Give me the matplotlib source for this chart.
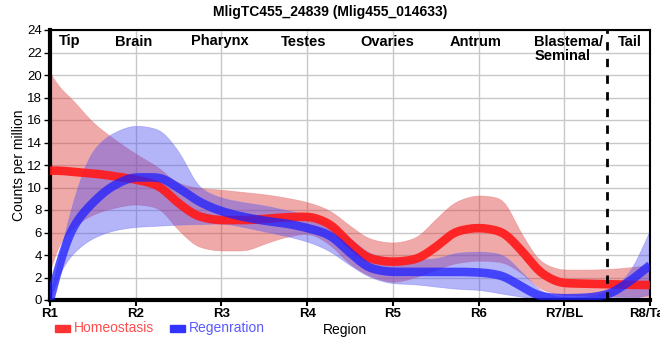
import numpy as np
import matplotlib
matplotlib.use("Agg")
import matplotlib.pyplot as plt

plt.rcParams["font.family"] = ["Liberation Sans", "DejaVu Sans"]

# positions along the body (0 = R1 ... 7 = R8/Tail)
pos = [0, 0.1, 0.25, 0.5, 0.75, 1, 1.25, 1.5, 1.75, 2, 2.25, 2.5, 2.75, 3, 3.25, 3.5,
       3.75, 4, 4.25, 4.5, 4.75, 5, 5.25, 5.5, 5.75, 6, 6.25, 6.5, 6.75, 7]

homeo_mean = [11.5, 11.5, 11.4, 11.25, 11.0, 10.7, 10.2, 8.6, 7.4, 7.1, 7.1, 7.2, 7.35, 7.4,
              6.8, 5.0, 3.65, 3.4, 3.6, 4.7, 6.1, 6.4, 6.1, 4.4, 2.3, 1.5, 1.45, 1.4, 1.35, 1.33]
homeo_upper = [20.2, 19.0, 17.9, 15.8, 14.3, 13.0, 11.85, 10.4, 9.95, 9.8, 9.6, 9.4, 9.1, 8.7,
               8.0, 6.6, 5.4, 5.1, 5.5, 7.2, 8.8, 9.3, 9.05, 5.9, 3.3, 2.7, 2.7, 2.75, 2.9, 3.1]
homeo_lower = [2.6, 4.9, 6.3, 7.6, 8.2, 8.5, 8.2, 6.2, 4.7, 4.4, 4.4, 5.0, 5.6, 5.9,
               5.0, 3.2, 2.1, 1.6, 2.0, 2.7, 3.3, 3.5, 3.4, 2.4, 0.9, 0.45, 0.4, 0.35, 0.3, 0.3]

regen_mean = [0, 2.9, 6.2, 8.65, 10.2, 10.9, 10.9, 9.95, 8.7, 7.9, 7.4, 7.05, 6.8, 6.4,
              5.8, 4.2, 2.8, 2.5, 2.5, 2.5, 2.5, 2.45, 2.2, 1.2, 0.3, 0.15, 0.2, 0.5, 1.6, 3.1]
regen_upper = [0.5, 3.6, 8.3, 13.3, 14.9, 15.5, 15.2, 13.2, 10.0, 9.1, 8.7, 8.4, 8.0, 7.55,
               6.8, 5.5, 4.1, 3.7, 3.6, 3.7, 4.2, 4.3, 4.1, 2.5, 0.75, 0.25, 0.3, 0.75, 2.4, 6.2]
regen_lower = [0, 2.2, 4.0, 5.5, 6.2, 6.5, 6.6, 6.7, 6.75, 6.8, 6.5, 6.1, 5.7, 5.2,
               4.4, 3.1, 2.0, 1.5, 1.4, 1.2, 1.0, 0.9, 0.6, 0.3, 0.05, 0, 0, 0, 0.1, 0.5]

x_ticks = ["R1", "R2", "R3", "R4", "R5", "R6", "R7/BL", "R8/Tail"]
regions = ["Tip", "Brain", "Pharynx", "Testes", "Ovaries", "Antrum", "Blastema/\nSeminal", "Tail"]
region_x = [0.23, 0.97, 1.98, 2.96, 3.94, 4.97, 5.65, 6.77]


def smooth(x, y, n=700, sigma=0.05):
    # monotone cubic (pchip) plus a light blur, only to draw smooth curves through the read points
    x = np.asarray(x, float); y = np.asarray(y, float)
    h = np.diff(x); d = np.diff(y) / h
    m = np.zeros_like(y)
    m[0], m[-1] = d[0], d[-1]
    for k in range(1, len(x) - 1):
        if d[k - 1] * d[k] > 0:
            w1 = 2 * h[k] + h[k - 1]; w2 = h[k] + 2 * h[k - 1]
            m[k] = (w1 + w2) / (w1 / d[k - 1] + w2 / d[k])
    xs = np.linspace(x[0], x[-1], n)
    i = np.clip(np.searchsorted(x, xs) - 1, 0, len(x) - 2)
    t = (xs - x[i]) / h[i]
    h00 = 2 * t**3 - 3 * t**2 + 1; h10 = t**3 - 2 * t**2 + t
    h01 = -2 * t**3 + 3 * t**2; h11 = t**3 - t**2
    ys = h00 * y[i] + h10 * h[i] * m[i] + h01 * y[i + 1] + h11 * h[i] * m[i + 1]
    step = xs[1] - xs[0]
    k = int(3 * sigma / step)
    kern = np.exp(-0.5 * (np.arange(-k, k + 1) * step / sigma) ** 2)
    kern /= kern.sum()
    # linear extension at the ends so the blur keeps end values
    left = ys[0] + (ys[0] - ys[1:k + 1][::-1])
    right = ys[-1] + (ys[-1] - ys[-k - 1:-1][::-1])
    ys = np.convolve(np.concatenate([left, ys, right]), kern, mode="valid")
    return xs, np.clip(ys, 0, None)


fig = plt.figure(figsize=(6.6, 3.6), dpi=100)
ax = fig.add_axes([50 / 660, 60 / 360, 600 / 660, 270 / 360])

xs, hu = smooth(pos, homeo_upper); _, hl = smooth(pos, homeo_lower)
_, ru = smooth(pos, regen_upper); _, rl = smooth(pos, regen_lower)
_, hm = smooth(pos, homeo_mean); _, rm = smooth(pos, regen_mean)

ax.fill_between(xs, hl, hu, color=(0.86, 0.2, 0.2), alpha=0.42, lw=0.6,
                edgecolor=(0.9, 0.45, 0.45, 0.6), zorder=2)
ax.fill_between(xs, rl, ru, color=(0.3, 0.3, 0.95), alpha=0.42, lw=0.6,
                edgecolor=(0.45, 0.45, 0.95, 0.6), zorder=2)
ax.plot(xs, hm, color=(1.0, 0.1, 0.1), alpha=0.92, lw=6.2, solid_capstyle="butt", zorder=3)
ax.plot(xs, rm, color=(0.12, 0.12, 1.0), alpha=0.75, lw=6.2, solid_capstyle="butt", zorder=4)

ax.axvline(6.5, color="black", ls=(0, (3, 3)), lw=2, zorder=5)

for xp, lab in zip(region_x, regions):
    ha = "left" if "/" in lab else "center"
    ax.text(xp, 23.6, lab, ha=ha, va="top", fontsize=10.5, fontweight="bold",
            linespacing=1.05, zorder=6)

ax.set_xlim(0, 7)
ax.set_ylim(0, 24)
ax.set_xticks(range(8))
ax.set_xticklabels(x_ticks, fontsize=9.5, fontweight="bold")
ax.set_yticks(range(0, 25, 2))
ax.tick_params(axis="y", labelsize=9.5, length=4, width=1, pad=2)
ax.tick_params(axis="x", length=4, width=1.5, pad=2)
ax.grid(color="#c8c8c8", lw=1)
ax.set_axisbelow(True)
for s in ["left", "bottom"]:
    ax.spines[s].set_linewidth(3)
for s in ["top", "right"]:
    ax.spines[s].set_linewidth(1.5)

ax.set_ylabel("Counts per million", fontsize=10)
ax.yaxis.set_label_coords(-0.04, 0.5)
fig.text(345 / 660, 1 - 330 / 360, "Region", ha="center", va="center", fontsize=10)
fig.suptitle("MligTC455_24839 (Mlig455_014633)", x=0.5, y=0.985, fontsize=10,
             fontweight="bold")

# legend drawn as swatches with coloured text
fig.patches.append(plt.Rectangle((55 / 660, 1 - 332 / 360), 15 / 660, 7 / 360,
                                 transform=fig.transFigure, color="#ff3333"))
fig.text(74 / 660, 1 - 328 / 360, "Homeostasis", color="#ff4d4d", fontsize=10,
         va="center")
fig.patches.append(plt.Rectangle((170 / 660, 1 - 332 / 360), 15 / 660, 7 / 360,
                                 transform=fig.transFigure, color="#3333ff"))
fig.text(189 / 660, 1 - 328 / 360, "Regenration", color="#5a5aff", fontsize=10,
         va="center")

fig.savefig("out.png", dpi=100)
